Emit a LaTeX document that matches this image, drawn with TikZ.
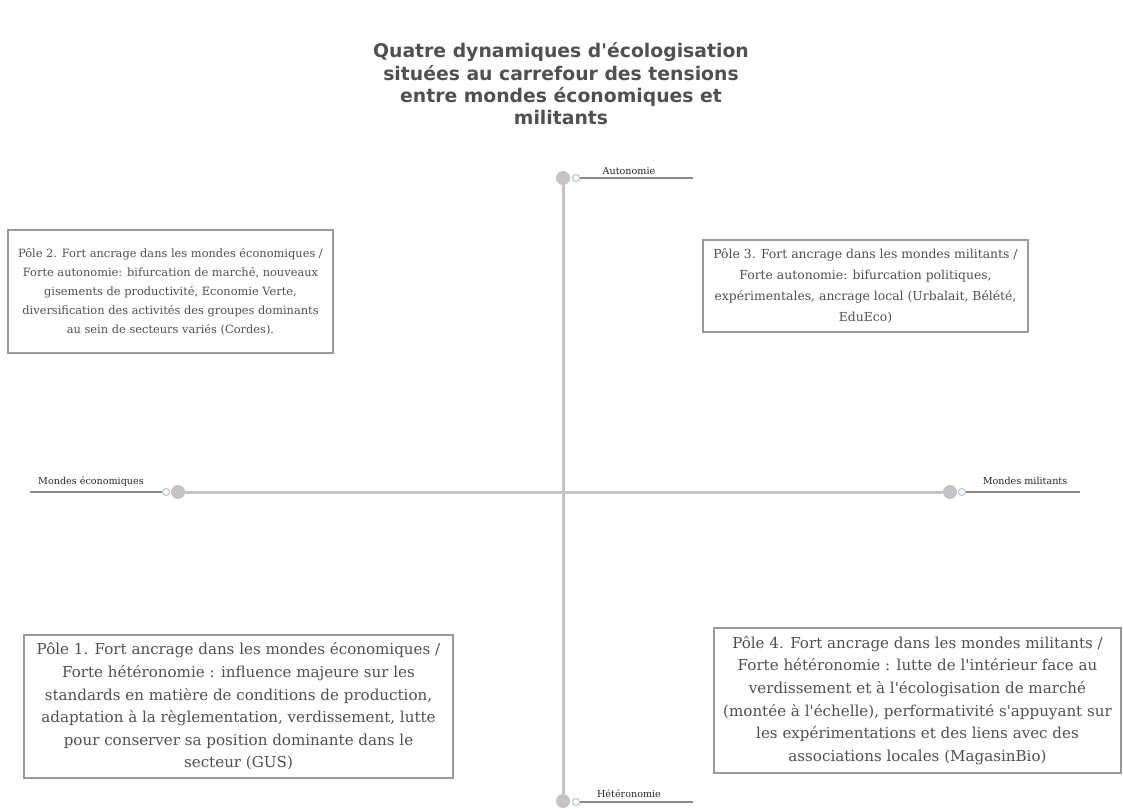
\documentclass[tikz,border=0pt]{standalone}
\usepackage{fontspec}
\setmainfont{DejaVu Serif}[Ligatures=TeXOff]
\newfontfamily\titlefont{DejaVu Sans}[Ligatures=TeXOff]
\definecolor{axisgray}{HTML}{C4C4C4}
\definecolor{boxgray}{HTML}{9A9A9A}
\definecolor{txtgray}{HTML}{505050}
\definecolor{ringblue}{HTML}{9DB3E8}
\definecolor{linegray}{HTML}{8A8A8A}
\begin{document}
\begin{tikzpicture}[x=1pt,y=-1pt,
  dot/.style={circle,fill=axisgray,draw=none,minimum size=14pt,inner sep=0pt},
  ring/.style={circle,draw=ringblue,fill=white,line width=0.8pt,minimum size=7pt,inner sep=0pt},
  axis/.style={draw=axisgray,line width=3pt},
  tick/.style={draw=linegray,line width=1.2pt},
  axlabel/.style={font=\fontsize{9.6}{10}\selectfont,text=black!85,inner sep=0pt,anchor=base},
  pole/.style={draw=boxgray,line width=1.3pt,fill=white,align=center,text=txtgray,inner sep=0pt},
  small/.style={font=\fontsize{11.4}{19}\selectfont},
  mid/.style={font=\fontsize{12.4}{21}\selectfont},
  big/.style={font=\fontsize{15.1}{22.6}\selectfont},
  title/.style={align=center,text=txtgray,font=\titlefont\bfseries\fontsize{18.8}{22.4}\selectfont}]
\useasboundingbox (0,0) rectangle (1123,808);
\node[title] (t) at (561,84) {Quatre dynamiques d'écologisation\\situées au carrefour des tensions\\entre mondes économiques et\\militants};
% axes
\node[dot] (top) at (563,178) {};
\node[dot] (bot) at (563,801) {};
\node[dot] (left) at (178,492) {};
\node[dot] (right) at (950,492) {};
\draw[axis] (top) -- (bot);
\draw[axis] (left) -- (right);
% end rings and label lines
\node[ring] (rtop) at (576,178) {};
\coordinate (ltop) at (693,178);
\draw[tick] (rtop) -- (ltop);
\node[axlabel] (atop) at (629,174) {Autonomie};
\node[ring] (rbot) at (576,802) {};
\coordinate (lbot) at (693,802);
\draw[tick] (rbot) -- (lbot);
\node[axlabel] (abot) at (629,797) {Hétéronomie};
\node[ring] (rleft) at (166,492) {};
\coordinate (lleft) at (30,492);
\draw[tick] (rleft) -- (lleft);
\node[axlabel] (aleft) at (91,484) {Mondes économiques};
\node[ring] (rright) at (962,492) {};
\coordinate (lright) at (1080,492);
\draw[tick] (rright) -- (lright);
\node[axlabel] (aright) at (1025,484) {Mondes militants};
% boxes
\node[pole,small,minimum width=325pt,minimum height=123pt] (p2) at (170.5,291.5) {Pôle 2. Fort ancrage dans les mondes économiques /\\Forte autonomie: bifurcation de marché, nouveaux\\gisements de productivité, Economie Verte,\\diversification des activités des groupes dominants\\au sein de secteurs variés (Cordes).};
\node[pole,mid,minimum width=325pt,minimum height=92pt] (p3) at (865.5,286) {Pôle 3. Fort ancrage dans les mondes militants /\\Forte autonomie: bifurcation politiques,\\expérimentales, ancrage local (Urbalait, Bélété,\\EduEco)};
\node[pole,big,minimum width=429pt,minimum height=143pt] (p1) at (238.5,706.5) {Pôle 1. Fort ancrage dans les mondes économiques /\\Forte hétéronomie : influence majeure sur les\\standards en matière de conditions de production,\\adaptation à la règlementation, verdissement, lutte\\pour conserver sa position dominante dans le\\secteur (GUS)};
\node[pole,big,minimum width=407pt,minimum height=145pt] (p4) at (917.5,700.5) {Pôle 4. Fort ancrage dans les mondes militants /\\Forte hétéronomie : lutte de l'intérieur face au\\verdissement et à l'écologisation de marché\\(montée à l'échelle), performativité s'appuyant sur\\les expérimentations et des liens avec des\\associations locales (MagasinBio)};
\end{tikzpicture}
\end{document}
